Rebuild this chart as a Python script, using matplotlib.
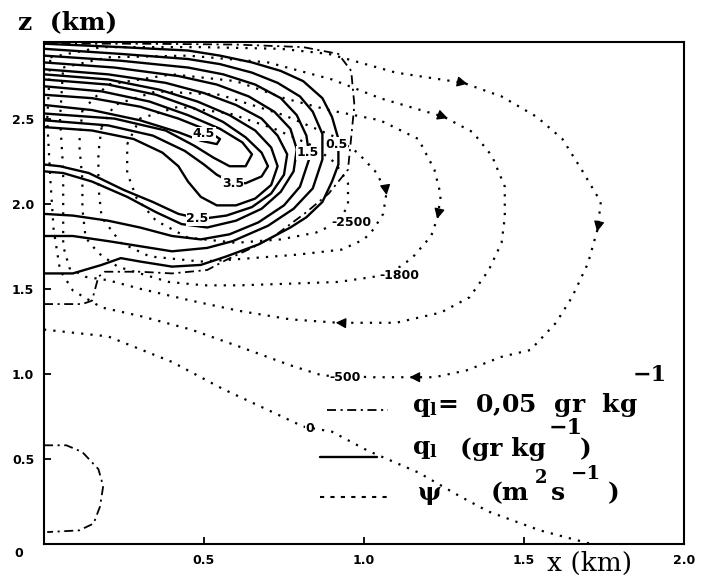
import matplotlib
matplotlib.use("Agg")
import matplotlib.pyplot as plt

plt.rcParams['mathtext.fontset'] = 'dejavuserif'

# q1 contours (x km, z km), traced clockwise from the top-left
q1_05 = [(0, 2.94), (0.24, 2.92), (0.45, 2.90), (0.55, 2.87), (0.65, 2.83), (0.74, 2.78), (0.81, 2.72),
         (0.87, 2.62), (0.90, 2.51), (0.92, 2.38), (0.92, 2.23), (0.90, 2.13), (0.87, 2.01), (0.82, 1.92),
         (0.77, 1.86), (0.67, 1.76), (0.57, 1.69), (0.49, 1.64), (0.40, 1.63), (0.30, 1.66), (0.24, 1.68),
         (0.18, 1.64), (0.09, 1.59), (0, 1.59)]
q1_10 = [(0, 2.91), (0.24, 2.88), (0.45, 2.85), (0.55, 2.82), (0.65, 2.77), (0.73, 2.71), (0.80, 2.63),
         (0.84, 2.54), (0.87, 2.41), (0.87, 2.26), (0.84, 2.09), (0.78, 1.97), (0.70, 1.87), (0.59, 1.78),
         (0.51, 1.74), (0.40, 1.72), (0.30, 1.75), (0.20, 1.78), (0.09, 1.81), (0, 1.81)]
q1_15 = [(0, 2.87), (0.24, 2.84), (0.45, 2.80), (0.56, 2.76), (0.66, 2.70), (0.74, 2.62), (0.79, 2.52),
         (0.82, 2.40), (0.83, 2.27), (0.80, 2.10), (0.75, 1.99), (0.67, 1.89), (0.58, 1.82), (0.49, 1.79),
         (0.40, 1.81), (0.30, 1.86), (0.20, 1.90), (0.09, 1.93), (0, 1.94)]
q1_20 = [(0, 2.83), (0.22, 2.80), (0.42, 2.75), (0.54, 2.70), (0.64, 2.63), (0.72, 2.54), (0.77, 2.44),
         (0.79, 2.32), (0.78, 2.19), (0.74, 2.07), (0.68, 1.97), (0.60, 1.90), (0.51, 1.86), (0.43, 1.88),
         (0.35, 1.95), (0.26, 2.04), (0.15, 2.13), (0.06, 2.18), (0, 2.19)]
q1_25 = [(0, 2.79), (0.20, 2.76), (0.38, 2.71), (0.50, 2.65), (0.60, 2.58), (0.68, 2.50), (0.73, 2.40),
         (0.76, 2.29), (0.75, 2.17), (0.71, 2.06), (0.65, 1.98), (0.57, 1.93), (0.49, 1.91), (0.42, 1.94),
         (0.34, 2.01), (0.25, 2.08), (0.14, 2.18), (0.05, 2.22), (0, 2.23)]
q1_30 = [(0, 2.76), (0.20, 2.73), (0.36, 2.67), (0.48, 2.60), (0.58, 2.52), (0.66, 2.43), (0.71, 2.33),
         (0.73, 2.22), (0.71, 2.11), (0.66, 2.03), (0.60, 1.99), (0.54, 1.99), (0.49, 2.04), (0.45, 2.13),
         (0.42, 2.22), (0.37, 2.30), (0.28, 2.38), (0.15, 2.43), (0, 2.45)]
q1_35 = [(0, 2.73), (0.20, 2.70), (0.35, 2.64), (0.47, 2.56), (0.56, 2.48), (0.63, 2.39), (0.68, 2.30),
         (0.70, 2.22), (0.68, 2.16), (0.63, 2.12), (0.58, 2.13), (0.54, 2.17), (0.50, 2.23), (0.44, 2.31),
         (0.34, 2.40), (0.20, 2.46), (0, 2.49)]
q1_40 = [(0, 2.69), (0.18, 2.66), (0.33, 2.60), (0.45, 2.52), (0.55, 2.44), (0.62, 2.36), (0.65, 2.29),
         (0.63, 2.22), (0.58, 2.22), (0.53, 2.27), (0.47, 2.34), (0.38, 2.43), (0.22, 2.50), (0, 2.53)]
q1_45 = [(0, 2.64), (0.15, 2.62), (0.30, 2.57), (0.42, 2.50), (0.50, 2.44), (0.55, 2.38), (0.54, 2.35),
         (0.49, 2.37), (0.42, 2.42), (0.30, 2.49), (0.15, 2.55), (0, 2.58)]

# q1 = 0.05 gr/kg boundaries
q1_cloud = [(0, 1.41), (0.12, 1.41), (0.15, 1.43), (0.16, 1.50), (0.17, 1.57), (0.19, 1.60), (0.30, 1.60),
            (0.40, 1.59), (0.51, 1.61), (0.57, 1.67), (0.65, 1.74), (0.72, 1.81), (0.82, 1.95), (0.89, 2.06),
            (0.95, 2.20), (0.96, 2.39), (0.97, 2.58), (0.96, 2.78), (0.92, 2.88), (0.81, 2.92), (0.60, 2.935),
            (0.30, 2.94), (0, 2.94)]
q1_low = [(0, 0.58), (0.07, 0.58), (0.12, 0.54), (0.17, 0.44), (0.185, 0.34), (0.175, 0.22), (0.155, 0.12),
          (0.11, 0.08), (0.01, 0.07)]

# stream function psi (m2/s)
psi_0 = [(0, 1.26), (0.20, 1.22), (0.40, 1.07), (0.56, 0.91), (0.72, 0.77), (0.81, 0.69), (0.90, 0.66),
         (1.01, 0.55), (1.17, 0.42), (1.30, 0.28), (1.39, 0.19), (1.55, 0.08), (1.71, 0.0)]
psi_500 = [(0.02, 2.86), (0.18, 2.92), (0.49, 2.92), (0.74, 2.91), (0.89, 2.88), (1.10, 2.77), (1.31, 2.71),
           (1.43, 2.63), (1.54, 2.51), (1.62, 2.38), (1.68, 2.20), (1.74, 2.01), (1.73, 1.85), (1.70, 1.65),
           (1.65, 1.45), (1.60, 1.30), (1.52, 1.14), (1.43, 1.10), (1.32, 1.02), (1.22, 0.98), (1.15, 0.98),
           (1.03, 0.98), (0.87, 0.99), (0.77, 1.05), (0.61, 1.16), (0.46, 1.26), (0.30, 1.34), (0.18, 1.39),
           (0.09, 1.49), (0.05, 1.61), (0.03, 1.85), (0.02, 2.14), (0.01, 2.49), (0.02, 2.86)]
psi_1000 = [(0.06, 2.80), (0.20, 2.86), (0.45, 2.87), (0.70, 2.83), (0.90, 2.73), (1.05, 2.62), (1.25, 2.51),
            (1.34, 2.42), (1.40, 2.28), (1.44, 2.10), (1.44, 1.92), (1.43, 1.77), (1.39, 1.61), (1.33, 1.45),
            (1.24, 1.36), (1.10, 1.30), (0.98, 1.30), (0.92, 1.30), (0.77, 1.32), (0.61, 1.37), (0.46, 1.43),
            (0.30, 1.50), (0.20, 1.55), (0.13, 1.57), (0.08, 1.62), (0.06, 1.75), (0.06, 1.98), (0.06, 2.20),
            (0.05, 2.50), (0.06, 2.80)]
psi_1800 = [(0.12, 2.55), (0.20, 2.70), (0.40, 2.76), (0.60, 2.72), (0.75, 2.62), (0.89, 2.55), (1.05, 2.49),
            (1.17, 2.38), (1.22, 2.20), (1.24, 2.05), (1.23, 1.92), (1.21, 1.81), (1.15, 1.68), (1.09, 1.60),
            (1.03, 1.57), (0.92, 1.54), (0.77, 1.53), (0.61, 1.52), (0.50, 1.52), (0.39, 1.54), (0.30, 1.59),
            (0.23, 1.63), (0.17, 1.71), (0.13, 1.80), (0.12, 1.97), (0.12, 2.14), (0.11, 2.35), (0.12, 2.55)]
psi_2200 = [(0.18, 2.45), (0.22, 2.58), (0.35, 2.66), (0.55, 2.64), (0.75, 2.52), (0.90, 2.40), (0.98, 2.30),
            (1.04, 2.18), (1.07, 2.06), (1.06, 1.94), (1.03, 1.85), (1.00, 1.79), (0.93, 1.73), (0.79, 1.70),
            (0.58, 1.67), (0.49, 1.66), (0.33, 1.69), (0.24, 1.77), (0.18, 1.92), (0.17, 2.10), (0.17, 2.30),
            (0.18, 2.45)]
psi_2500 = [(0.26, 2.35), (0.30, 2.50), (0.42, 2.57), (0.58, 2.53), (0.72, 2.44), (0.84, 2.34), (0.91, 2.24),
            (0.95, 2.12), (0.95, 1.99), (0.92, 1.89), (0.85, 1.83), (0.74, 1.79), (0.60, 1.77), (0.45, 1.80),
            (0.35, 1.90), (0.29, 2.03), (0.26, 2.18), (0.26, 2.35)]

# contour labels (text, x, z)
q1_labels = [('4.5', 0.50, 2.41), ('3.5', 0.59, 2.12), ('2.5', 0.48, 1.91), ('1.5', 0.825, 2.30),
             ('0.5', 0.915, 2.35)]
psi_labels = [('-2500', 0.96, 1.89), ('-1800', 1.11, 1.58), ('-500', 0.94, 0.98), ('0', 0.83, 0.68)]

# arrow heads on the psi lines: (line, point index)
psi_arrows = [(psi_500, 6), (psi_500, 12), (psi_500, 20), (psi_1000, 6), (psi_1000, 17),
              (psi_1800, 10), (psi_2200, 8)]

xticks = [0.5, 1.0, 1.5, 2.0]
yticks = [0.5, 1.0, 1.5, 2.0, 2.5]

fig = plt.figure(figsize=(7.05, 5.77), dpi=100)
ax = fig.add_axes([0.0624, 0.0572, 0.9078, 0.870])

solid_kw = dict(color='black', lw=1.7, solid_capstyle='round')
dot_kw = dict(color='black', lw=1.6, linestyle=(0, (1, 3.2)))
dashdot_kw = dict(color='black', lw=1.3, linestyle=(0, (5, 2.5, 1.2, 2.5)))

for line in [q1_05, q1_10, q1_15, q1_20, q1_25, q1_30, q1_35, q1_40, q1_45]:
    ax.plot([p[0] for p in line], [p[1] for p in line], **solid_kw)

for line in [q1_cloud, q1_low]:
    ax.plot([p[0] for p in line], [p[1] for p in line], **dashdot_kw)

for line in [psi_0, psi_500, psi_1000, psi_1800, psi_2200, psi_2500]:
    ax.plot([p[0] for p in line], [p[1] for p in line], **dot_kw)

# small arrow head sitting on a point, pointing along the line
for line, i in psi_arrows:
    (xa, za), (xb, zb) = line[i - 1], line[i + 1]
    x, z = line[i]
    ax.annotate('', xy=(x + (xb - xa) * 0.04, z + (zb - za) * 0.04),
                xytext=(x - (xb - xa) * 0.04, z - (zb - za) * 0.04),
                arrowprops=dict(arrowstyle='-|>,head_length=0.55,head_width=0.28', color='black',
                                lw=1.0, shrinkA=0, shrinkB=0, mutation_scale=11))

lab_kw = dict(ha='center', va='center', fontsize=9, fontweight='bold', family='DejaVu Sans',
              bbox=dict(facecolor='white', edgecolor='none', pad=0.4))
for txt, x, z in q1_labels + psi_labels:
    ax.text(x, z, txt, **lab_kw)

ax.set_xlim(0, 2.0)
ax.set_ylim(0, 2.95)
ax.set_xticks(xticks)
ax.set_xticklabels(['0.5', '1.0', '1.5', '2.0'])
ax.set_yticks(yticks)
ax.set_yticklabels(['0.5', '1.0', '1.5', '2.0', '2.5'])
ax.tick_params(direction='in', length=5, width=1.3, labelsize=9, pad=7)
for lbl in ax.get_xticklabels() + ax.get_yticklabels():
    lbl.set_fontweight('bold')
for sp in ax.spines.values():
    sp.set_linewidth(1.5)

# legend drawn by hand, as in the original
serif = dict(family='DejaVu Serif', fontweight='bold', color='black')
ax.plot([0.442, 0.538], [0.267, 0.267], transform=ax.transAxes, **dashdot_kw)
ax.plot([0.431, 0.520], [0.173, 0.173], transform=ax.transAxes, **solid_kw)
ax.plot([0.431, 0.538], [0.094, 0.094], transform=ax.transAxes, color='black', lw=1.5,
        linestyle=(0, (2, 3)))

fig.text(0.584, 0.298, r'$\mathbf{q_{l}}$=  0,05  gr  kg', fontsize=18, va='center', **serif)
fig.text(0.898, 0.350, '\u22121', fontsize=16, va='center', **serif)

fig.text(0.584, 0.222, r'$\mathbf{q_{l}}$', fontsize=18, va='center', **serif)
fig.text(0.652, 0.222, '(gr kg', fontsize=18, va='center', **serif)
fig.text(0.778, 0.258, '\u22121', fontsize=16, va='center', **serif)
fig.text(0.822, 0.222, ')', fontsize=18, va='center', **serif)

fig.text(0.593, 0.145, '\u03c8', fontsize=18, va='center', **serif)
fig.text(0.696, 0.145, '(m', fontsize=18, va='center', **serif)
fig.text(0.758, 0.171, '2', fontsize=13, va='center', **serif)
fig.text(0.782, 0.145, 's', fontsize=18, va='center', **serif)
fig.text(0.810, 0.178, '\u22121', fontsize=14, va='center', **serif)
fig.text(0.862, 0.145, ')', fontsize=18, va='center', **serif)

fig.text(0.026, 0.962, 'z  (km)', fontsize=18, va='center', **serif)
fig.text(0.776, 0.024, 'x (km)', fontsize=19, va='center', family='DejaVu Serif')
fig.text(0.026, 0.040, '0', fontsize=9, fontweight='bold', va='center', ha='center')

fig.savefig('out.png', dpi=100)
